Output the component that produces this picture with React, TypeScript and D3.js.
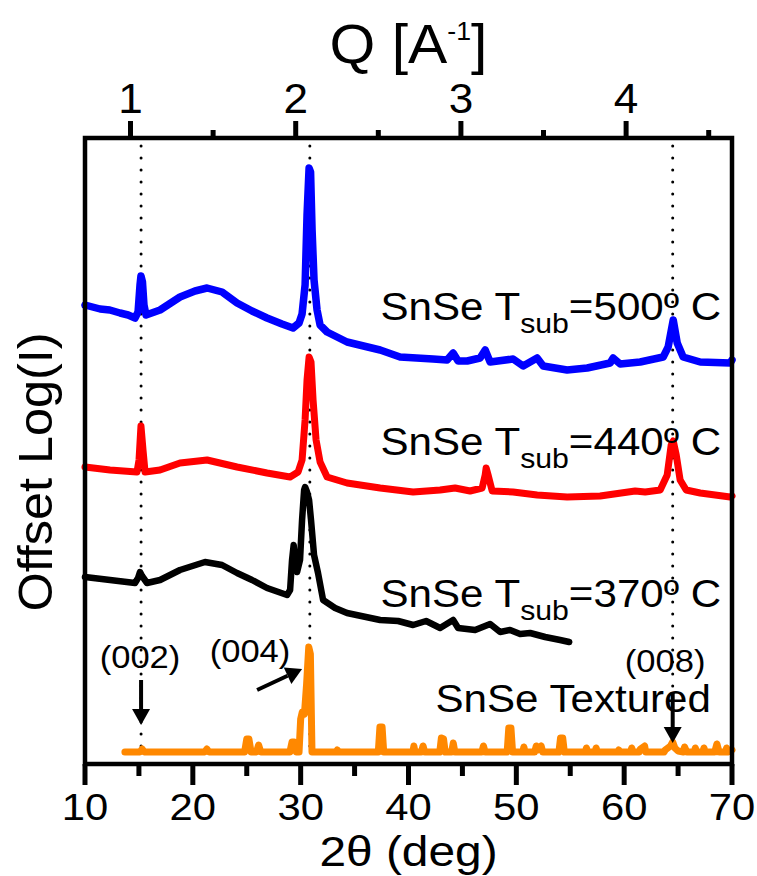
import React from 'react';
import * as d3 from 'd3';

type P = [number, number];

// 2θ axis ticks
const TT_MAJOR = [10, 20, 30, 40, 50, 60, 70];
const TT_MINOR = [15, 25, 35, 45, 55, 65];
// Q axis ticks
const Q_MAJOR = [1, 2, 3, 4];
const Q_MINOR = [1.5, 2.5, 3.5, 4.5];
// reference reflections (dotted guides)
const PEAK_LINES = [15.2, 30.85, 64.5];

// SnSe Tsub = 500 °C (2θ, offset log I, arbitrary units)
const S500: P[] = [
  [10.0, 459], [11.4, 455], [12.3, 454], [13.25, 451], [14.0, 449], [14.64, 446], [14.92, 452],
  [15.1, 479], [15.19, 488], [15.33, 482], [15.47, 459], [15.66, 449], [16.96, 454], [18.81, 467],
  [20.2, 473], [21.32, 476], [22.71, 472], [24.1, 461], [25.49, 453], [26.88, 446], [28.27, 440],
  [29.29, 436], [29.85, 441], [30.13, 450], [30.41, 479], [30.59, 549], [30.78, 596], [30.92, 592],
  [31.06, 534], [31.24, 484], [31.52, 454], [31.8, 439], [32.45, 432], [34.3, 422], [37.37, 414],
  [39.22, 407], [42.28, 405], [43.58, 404], [44.14, 411], [44.6, 403], [45.44, 403], [46.64, 406],
  [47.11, 414], [47.57, 402], [49.7, 405], [50.63, 398], [51.93, 406], [52.49, 398], [54.71, 394],
  [56.57, 396], [58.7, 401], [58.98, 406], [59.63, 400], [61.48, 402], [63.62, 407], [64.08, 417],
  [64.55, 444], [64.92, 421], [65.47, 407], [67.05, 402], [69.83, 401], [70.0, 404],
];

// SnSe Tsub = 440 °C
const S440: P[] = [
  [10.0, 297], [12.32, 294], [14.82, 292], [15.01, 304], [15.19, 338], [15.38, 314], [15.57, 292],
  [16.96, 294], [18.81, 301], [21.32, 304], [24.1, 297], [26.88, 291], [29.02, 287], [29.76, 292],
  [30.13, 304], [30.41, 344], [30.59, 384], [30.78, 407], [30.96, 402], [31.15, 364], [31.43, 324],
  [31.8, 302], [32.45, 287], [34.3, 281], [37.37, 276], [40.43, 272], [42.93, 274], [44.32, 276],
  [45.71, 273], [46.83, 276], [47.11, 289], [47.2, 296], [47.38, 289], [47.76, 273], [49.7, 272],
  [51.93, 269], [54.71, 267], [57.77, 268], [61.02, 273], [61.95, 272], [63.34, 274], [63.99, 289],
  [64.36, 319], [64.55, 323], [64.83, 309], [65.19, 284], [65.75, 274], [67.05, 271], [69.83, 267],
  [70.0, 268],
];

// SnSe Tsub = 370 °C
const S370: P[] = [
  [10.0, 187], [12.32, 184], [14.64, 181], [14.92, 186], [15.1, 192], [15.29, 188], [15.75, 181],
  [16.96, 184], [18.81, 194], [21.13, 202], [22.71, 199], [24.1, 191], [25.49, 184], [26.88, 176],
  [28.74, 169], [29.02, 174], [29.2, 204], [29.35, 219], [29.48, 204], [29.67, 192], [29.94, 204],
  [30.13, 244], [30.32, 274], [30.41, 277], [30.59, 272], [30.78, 264], [30.96, 244], [31.24, 209],
  [31.61, 191], [32.08, 164], [33.19, 156], [34.3, 151], [37.37, 144], [39.04, 143], [40.43, 139],
  [41.63, 143], [42.93, 136], [44.14, 144], [44.6, 136], [46.18, 134], [47.57, 140], [48.5, 132],
  [49.42, 134], [50.35, 130], [51.28, 131], [52.67, 127], [54.06, 124], [54.9, 122],
];

// SnSe textured reference pattern
const TEXTURED: P[] = [
  [13.7, 12], [15.1, 12], [15.3, 15], [15.5, 12], [21.1, 12], [21.3, 15], [21.5, 12],
  [24.8, 12], [25.0, 25], [25.2, 25], [25.4, 12], [25.9, 12], [26.1, 19], [26.3, 12],
  [29.0, 12], [29.2, 22], [29.4, 22], [29.6, 12], [29.85, 12], [30.0, 45], [30.15, 52],
  [30.35, 50], [30.55, 80], [30.75, 117], [30.9, 110], [31.05, 12], [33.3, 12], [33.4, 14],
  [33.5, 12], [37.2, 12], [37.35, 37], [37.55, 37], [37.7, 12], [40.4, 12], [40.5, 18],
  [40.6, 12], [41.2, 12], [41.35, 18], [41.5, 12], [42.9, 12], [43.05, 26], [43.25, 25],
  [43.4, 12], [44.0, 12], [44.15, 21], [44.3, 12], [46.8, 12], [46.95, 18], [47.1, 12],
  [49.15, 12], [49.3, 36], [49.5, 36], [49.65, 12], [50.6, 12], [50.7, 17], [50.8, 12],
  [51.7, 12], [51.85, 18], [52.0, 14], [52.3, 18], [52.45, 12], [53.95, 12], [54.1, 26],
  [54.3, 26], [54.45, 12], [56.4, 12], [56.5, 16], [56.6, 12], [57.3, 12], [57.4, 16],
  [57.5, 12], [59.4, 12], [59.5, 14], [59.6, 12], [60.6, 12], [60.7, 16], [60.8, 12],
  [61.4, 12], [61.5, 15], [61.9, 18], [62.0, 12], [63.7, 12], [63.8, 14], [64.3, 18],
  [64.5, 22], [64.7, 16], [65.0, 13], [65.5, 12], [65.6, 17], [65.8, 12], [66.5, 12],
  [66.6, 16], [66.7, 12], [67.3, 12], [67.4, 16], [67.5, 12], [68.4, 12], [68.6, 20],
  [68.8, 12], [69.4, 12], [69.5, 16], [69.6, 12], [70.0, 14],
];

const SERIES = [
  { data: S500, color: '#0000FF', width: 7.5 },
  { data: S440, color: '#FF0000', width: 7 },
  { data: S370, color: '#000000', width: 6.5 },
  { data: TEXTURED, color: '#FF8800', width: 7 },
];

const CURVE_LABELS = [
  { t: 37.4, v: 444, temp: '500' },
  { t: 37.4, v: 309, temp: '440' },
  { t: 37.4, v: 157, temp: '370' },
];

const HKL_LABELS = [
  { t: 15.1, v: 96, text: '(002)' },
  { t: 25.3, v: 102, text: '(004)' },
  { t: 63.8, v: 92, text: '(008)' },
];

// arrows: [from(2θ,v), to(2θ,v)]
const ARROWS: [P, P][] = [
  [[15.2, 84], [15.2, 39]],
  [[25.96, 74], [30.13, 95]],
  [[64.5, 72], [64.5, 21]],
];

const FONT = '"Liberation Sans", Arial, Helvetica, sans-serif';

export default function App() {
  const x = d3.scaleLinear().domain([10, 70]).range([85, 732]);
  const q = d3.scaleLinear().domain([0.7245, 4.641]).range([85, 732]);
  const y = d3.scaleLinear().domain([0, 626]).range([764, 138]);
  const line = d3.line<P>().x((d) => x(d[0])).y((d) => y(d[1]));

  const x0 = x(10), x1 = x(70), y0 = y(0), y1 = y(626);

  const arrowHead = (from: P, to: P, len: number, half: number) => {
    const fx = x(from[0]), fy = y(from[1]), tx = x(to[0]), ty = y(to[1]);
    const a = Math.atan2(ty - fy, tx - fx);
    const bx = tx - len * Math.cos(a), by = ty - len * Math.sin(a);
    const px = -Math.sin(a) * half, py = Math.cos(a) * half;
    return { fx, fy, bx, by, tx, ty, pts: `${tx},${ty} ${bx + px},${by + py} ${bx - px},${by - py}` };
  };

  return (
    <svg
      width={757}
      height={876}
      viewBox="0 0 757 876"
      style={{ position: 'absolute', left: 0, top: 0, background: '#fff' }}
      fontFamily={FONT}
    >
      <rect x={0} y={0} width={757} height={876} fill="#fff" />

      {/* dotted guide lines */}
      {PEAK_LINES.map((p) => (
        <line key={p} x1={x(p)} x2={x(p)} y1={y1 + 8} y2={y0 - 6} stroke="#000" strokeWidth={3}
          strokeDasharray="0 12" strokeLinecap="round" />
      ))}

      {/* curves */}
      {SERIES.map((s, i) => (
        <path key={i} d={line(s.data) || ''} fill="none" stroke={s.color} strokeWidth={s.width}
          strokeLinejoin="round" strokeLinecap="round" />
      ))}

      {/* frame */}
      <rect x={x0} y={y1} width={x1 - x0} height={y0 - y1} fill="none" stroke="#000" strokeWidth={4.5} />

      {/* bottom ticks */}
      {TT_MAJOR.map((t) => (
        <line key={'M' + t} x1={x(t)} x2={x(t)} y1={y0} y2={y0 + 21} stroke="#000" strokeWidth={5} />
      ))}
      {TT_MINOR.map((t) => (
        <line key={'m' + t} x1={x(t)} x2={x(t)} y1={y0} y2={y0 + 12} stroke="#000" strokeWidth={5} />
      ))}
      {TT_MAJOR.map((t) => (
        <g key={'L' + t} transform={`translate(${x(t)},820) scale(1.13,1)`}>
          <text textAnchor="middle" fontSize={37}>{t}</text>
        </g>
      ))}

      {/* top ticks */}
      {Q_MAJOR.map((t) => (
        <line key={'QM' + t} x1={q(t)} x2={q(t)} y1={y1} y2={y1 - 17} stroke="#000" strokeWidth={5} />
      ))}
      {Q_MINOR.map((t) => (
        <line key={'Qm' + t} x1={q(t)} x2={q(t)} y1={y1} y2={y1 - 8} stroke="#000" strokeWidth={5} />
      ))}
      {Q_MAJOR.map((t) => (
        <g key={'QL' + t} transform={`translate(${q(t)},113) scale(1.05,1)`}>
          <text textAnchor="middle" fontSize={42}>{t}</text>
        </g>
      ))}

      {/* axis titles */}
      <g transform={`translate(${(x0 + x1) / 2},866) scale(1.14,1)`}>
        <text textAnchor="middle" fontSize={42}>2θ (deg)</text>
      </g>
      <g transform={`translate(${(x0 + x1) / 2},63) scale(1.07,1)`}>
        <text textAnchor="middle" fontSize={55}>
          <tspan>Q [A</tspan>
          <tspan fontSize={25} dy={-23}>-1</tspan>
          <tspan dy={23}>]</tspan>
        </text>
      </g>
      <g transform={`translate(52,472) rotate(-90) scale(1.05,1)`}>
        <text textAnchor="middle" fontSize={48}>Offset Log(I)</text>
      </g>

      {/* curve labels */}
      {CURVE_LABELS.map((c) => (
        <g key={c.temp} transform={`translate(${x(c.t)},${y(c.v)}) scale(1.08,1)`}>
          <text fontSize={39}>
            <tspan>SnSe T</tspan>
            <tspan fontSize={28} dy={13}>sub</tspan>
            <tspan dy={-13}>={c.temp}º C</tspan>
          </text>
        </g>
      ))}
      <g transform={`translate(${x(42.5)},${y(52)}) scale(1.08,1)`}>
        <text fontSize={39}>SnSe Textured</text>
      </g>

      {HKL_LABELS.map((h) => (
        <g key={h.text} transform={`translate(${x(h.t)},${y(h.v)}) scale(1.08,1)`}>
          <text textAnchor="middle" fontSize={32}>{h.text}</text>
        </g>
      ))}

      {/* arrows */}
      {ARROWS.map(([f, t], i) => {
        const a = arrowHead(f, t, 16, 9);
        return (
          <g key={i}>
            <line x1={a.fx} y1={a.fy} x2={a.bx} y2={a.by} stroke="#000" strokeWidth={4} />
            <polygon points={a.pts} fill="#000" />
          </g>
        );
      })}
    </svg>
  );
}
